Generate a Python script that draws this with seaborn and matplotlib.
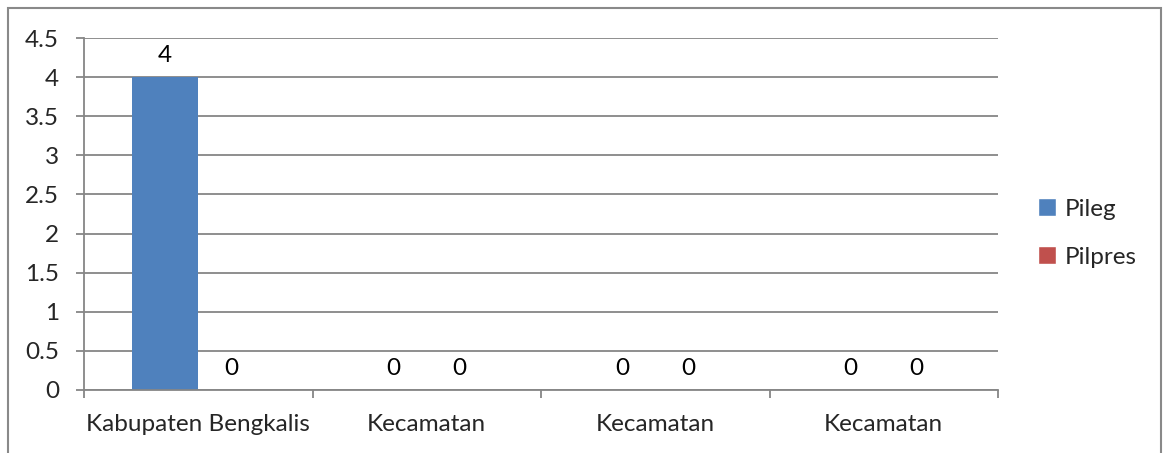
import pandas as pd
import matplotlib
matplotlib.use("Agg")
import matplotlib.pyplot as plt
import seaborn as sns
from matplotlib.patches import Rectangle, Patch

# data
categories = ["Kabupaten Bengkalis", "Kecamatan", "Kecamatan", "Kecamatan"]
pileg = [4, 0, 0, 0]
pilpres = [0, 0, 0, 0]
series = ["Pileg", "Pilpres"]
colors = ["#4F81BD", "#C0504D"]

# long table, one row per bar; position id keeps the repeated names apart
rows = []
for i, cat in enumerate(categories):
    rows.append({"pos": i, "series": "Pileg", "value": pileg[i]})
    rows.append({"pos": i, "series": "Pilpres", "value": pilpres[i]})
df = pd.DataFrame(rows)

sns.set_style("white")
plt.rcParams["font.family"] = ["Lato", "DejaVu Sans"]
fs = 17.5

fig = plt.figure(figsize=(11.64, 4.53), dpi=100)
ax = fig.add_axes([84 / 1164, 63 / 453, 914 / 1164, 352 / 453])

sns.barplot(data=df, x="pos", y="value", hue="series", hue_order=series,
            palette=colors, width=0.578, gap=0, ax=ax, legend=False,
            saturation=1, order=[0, 1, 2, 3], linewidth=0)

for cont in ax.containers:
    ax.bar_label(cont, fmt="%g", padding=8, fontsize=fs, color="black")

gridc = "#868686"
ax.set_ylim(0, 4.5)
ax.set_xlim(-0.5, 3.5)
ax.set_yticks([0, 0.5, 1, 1.5, 2, 2.5, 3, 3.5, 4, 4.5])
ax.set_yticklabels(["0", "0.5", "1", "1.5", "2", "2.5", "3", "3.5", "4", "4.5"])
ax.yaxis.grid(True, color=gridc, linewidth=1.3)
ax.set_axisbelow(True)

ax.set_xticks([-0.5, 0.5, 1.5, 2.5, 3.5])
ax.set_xticklabels([])
ax.set_xticks([0, 1, 2, 3], minor=True)
ax.set_xticklabels(categories, minor=True)
ax.tick_params(axis="x", which="major", length=6, width=1.3, color=gridc, direction="out", bottom=True)
ax.tick_params(axis="x", which="minor", length=0, pad=17, labelsize=fs)
ax.tick_params(axis="y", length=6, width=1.3, color=gridc, direction="out", left=True, labelsize=fs, pad=12)

for s in ["top", "right"]:
    ax.spines[s].set_visible(False)
for s in ["left", "bottom"]:
    ax.spines[s].set_color(gridc)
    ax.spines[s].set_linewidth(1.3)
ax.set_xlabel("")
ax.set_ylabel("")

handles = [Patch(facecolor=c, label=s) for c, s in zip(colors, series)]
ax.legend(handles=handles, loc="center left", bbox_to_anchor=(1016 / 1164, (453 - 233) / 453),
          bbox_transform=fig.transFigure, frameon=False, fontsize=fs,
          handlelength=0.75, handleheight=0.75, handletextpad=0.35, labelspacing=1.1)

# outer chart frame
fig.patches.append(Rectangle((8 / 1164, -0.1), 1153 / 1164, 1.1 - 8 / 453,
                             transform=fig.transFigure, fill=False,
                             edgecolor="#898989", linewidth=1.5))

fig.savefig("out.png", dpi=100)
